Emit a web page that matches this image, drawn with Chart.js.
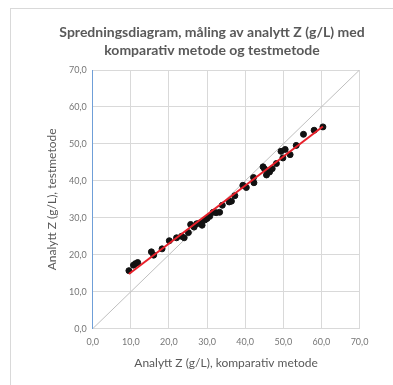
<!DOCTYPE html>
<html>
<head>
<meta charset="utf-8">
<script src="https://cdn.jsdelivr.net/npm/chart.js@4.4.0/dist/chart.umd.min.js"></script>
<style>
  html, body { margin: 0; padding: 0; background: #fff; }
  #wrap { width: 393px; height: 385px; }
</style>
</head>
<body>
<div id="wrap"><canvas id="myChart" width="393" height="385"></canvas></div>
<script>
// komparativ metode (x) vs testmetode (y)
var komparativ = [9.5, 10.7, 11.2, 11.8, 15.4, 16.0, 18.2, 20.1, 22.0, 23.3, 24.0, 25.1, 25.7, 26.6, 27.3,
  28.1, 28.7, 29.4, 30.0, 30.7, 31.6, 32.4, 33.3, 34.0, 35.8, 36.4, 37.3, 39.4, 40.3, 42.2,
  42.3, 44.7, 45.1, 45.6, 46.4, 47.1, 48.2, 49.4, 49.9, 50.5, 51.8, 53.4, 55.3, 58.1, 60.4];
var testmetode = [15.7, 17.2, 17.6, 17.9, 20.8, 19.9, 21.6, 23.8, 24.6, 25.0, 24.6, 26.0, 28.2, 27.5, 28.4,
  28.6, 28.0, 29.4, 29.8, 30.4, 31.5, 31.4, 31.5, 33.4, 34.3, 34.5, 36.0, 38.8, 38.2, 40.9,
  39.5, 43.8, 43.2, 41.6, 42.4, 43.3, 44.7, 48.0, 46.2, 48.5, 47.1, 49.6, 52.6, 53.7, 54.6];
// trendline ends and identity line
var trendX = [9.5, 60.4];
var trendY = [14.8, 54.7];
var identX = [0, 70];
var identY = [0, 70];
var titleLines = ["Spredningsdiagram, måling av analytt Z (g/L) med", "komparativ metode og testmetode"];

function pts(xs, ys) {
  return xs.map(function (x, i) { return { x: x, y: ys[i] }; });
}
function komma(v) { return v.toFixed(1).replace(".", ","); }

var FONT = "Lato, 'Open Sans', sans-serif";
var GREY = "#595959";

var titlePlugin = {
  id: "titleAndFrame",
  beforeDraw: function (chart) {
    var c = chart.ctx;
    c.save();
    c.strokeStyle = "#d9d9d9";
    c.lineWidth = 1;
    c.strokeRect(10.5, 8.5, 400, 400);
    c.fillStyle = GREY;
    c.font = "bold 14px " + FONT;
    c.textAlign = "center";
    c.textBaseline = "middle";
    c.fillText(titleLines[0], 212, 32);
    c.fillText(titleLines[1], 212, 50);
    c.restore();
  }
};

var ctx = document.getElementById("myChart").getContext("2d");
var chart = new Chart(ctx, {
  type: "scatter",
  data: {
    datasets: [
      {
        label: "Trend",
        type: "line",
        data: pts(trendX, trendY),
        borderColor: "#e8202a",
        borderWidth: 2,
        pointRadius: 0,
        order: 0
      },
      {
        label: "Målinger",
        data: pts(komparativ, testmetode),
        backgroundColor: "#111",
        borderColor: "#111",
        pointRadius: 3,
        order: 1
      },
      {
        label: "y = x",
        type: "line",
        data: pts(identX, identY),
        borderColor: "#bfbfbf",
        borderWidth: 1,
        pointRadius: 0,
        order: 2
      }
    ]
  },
  plugins: [titlePlugin],
  options: {
    responsive: false,
    animation: false,
    layout: { padding: { left: 0, right: 33.5, top: 70, bottom: 0 } },
    plugins: {
      legend: { display: false },
      tooltip: { enabled: false },
      title: { display: false }
    },
    scales: {
      x: {
        type: "linear",
        min: 0,
        max: 70,
        afterFit: function (s) { s.height = 56.3; },
        grid: { color: "#d9d9d9", drawTicks: false },
        border: { color: "#d9d9d9" },
        ticks: {
          stepSize: 10,
          padding: 8,
          color: "#767676",
          font: { family: FONT, size: 9 },
          callback: komma
        },
        title: {
          display: true,
          text: "Analytt Z (g/L), komparativ metode",
          color: GREY,
          font: { family: FONT, size: 12 },
          padding: { top: 0, bottom: 15 }
        }
      },
      y: {
        type: "linear",
        min: 0,
        max: 70,
        afterFit: function (s) { s.width = 92.7; },
        grid: { color: "#d9d9d9", drawTicks: false },
        border: { color: "#6f9fd8" },
        ticks: {
          stepSize: 10,
          padding: 6,
          color: "#767676",
          font: { family: FONT, size: 9 },
          callback: komma
        },
        title: {
          display: true,
          text: "Analytt Z (g/L), testmetode",
          color: GREY,
          font: { family: FONT, size: 12 },
          padding: { top: 45, bottom: 0 }
        }
      }
    }
  }
});
</script>
</body>
</html>
